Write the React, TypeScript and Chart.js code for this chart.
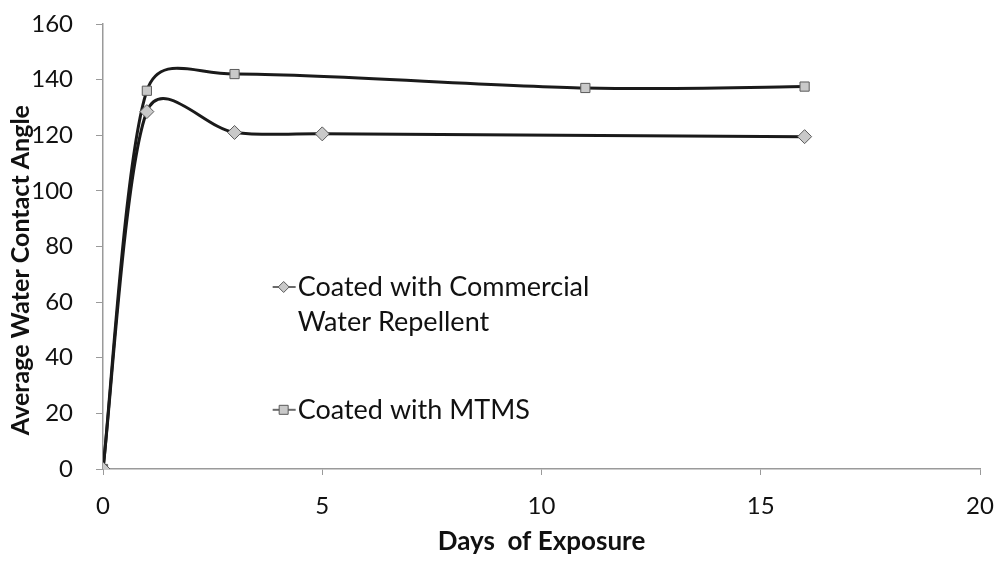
import React, { useEffect, useRef } from "react";
import { Chart, registerables } from "chart.js";

Chart.register(...registerables);

const commercialDays = [0, 1, 3, 5, 16];
const commercialValues = [0, 128.5, 121, 120.5, 119.5];
const mtmsDays = [0, 1, 3, 11, 16];
const mtmsValues = [0, 136, 142, 137, 137.5];
const xTicks = [0, 5, 10, 15, 20];
const yTicks = [0, 20, 40, 60, 80, 100, 120, 140, 160];
const legendLabels = [["Coated with Commercial", "Water Repellent"], ["Coated with MTMS"]];
const xTitle = "Days  of Exposure";
const yTitle = "Average Water Contact Angle";

const FONT = "Lato, 'Open Sans', sans-serif";
const LINE = "#1a1a1a";
const MARK_FILL = "#c9c9c9";
const MARK_BORDER = "#5a5a5a";
const AXIS = "#9a9a9a";

// Excel-style smoothing: Catmull-Rom tangents (1/6) with length capped by the neighbouring segment
const excelSmooth = {
  id: "excelSmooth",
  beforeDatasetDraw(chart: any, args: any) {
    const meta = args.meta;
    const line = meta.dataset;
    if (!line || !line.updateControlPoints) return;
    line.updateControlPoints(chart.chartArea, "x");
    const pts = meta.data;
    const n = pts.length;
    const CAP = 0.45;
    for (let i = 0; i < n; i++) {
      const p = pts[i];
      const prev = pts[Math.max(i - 1, 0)];
      const next = pts[Math.min(i + 1, n - 1)];
      const tx = (next.x - prev.x) / 6;
      const ty = (next.y - prev.y) / 6;
      const tl = Math.hypot(tx, ty) || 1;
      const dPrev = i > 0 ? Math.hypot(p.x - pts[i - 1].x, p.y - pts[i - 1].y) : 0;
      const dNext = i < n - 1 ? Math.hypot(pts[i + 1].x - p.x, pts[i + 1].y - p.y) : 0;
      const s1 = Math.min(1, (CAP * dPrev) / tl);
      const s2 = Math.min(1, (CAP * dNext) / tl);
      p.cp1x = p.x - tx * s1;
      p.cp1y = p.y - ty * s1;
      p.cp2x = p.x + tx * s2;
      p.cp2y = p.y + ty * s2;
    }
  },
};

const decorPlugin = {
  id: "decor",
  afterDraw(chart: any) {
    const { ctx, chartArea } = chart;
    const w = chartArea.right - chartArea.left;
    const h = chartArea.bottom - chartArea.top;
    ctx.save();
    // axis titles
    ctx.fillStyle = "#111";
    ctx.textAlign = "center";
    ctx.textBaseline = "middle";
    ctx.font = `bold 26px ${FONT}`;
    ctx.fillText(xTitle, chartArea.left + 0.5 * w, chartArea.bottom + 73);
    ctx.save();
    ctx.translate(21, chartArea.top + 0.553 * h);
    ctx.rotate(-Math.PI / 2);
    ctx.font = `bold 25px ${FONT}`;
    ctx.fillText(yTitle, 0, 0);
    ctx.restore();

    // legend inside plot
    const entries = [
      { fx: 0.206, fy: 0.591, style: "rectRot", lines: legendLabels[0] },
      { fx: 0.206, fy: 0.867, style: "rect", lines: legendLabels[1] },
    ];
    entries.forEach((e) => {
      const cx = chartArea.left + e.fx * w;
      const cy = chartArea.top + e.fy * h;
      ctx.strokeStyle = "#6a6a6a";
      ctx.lineWidth = 2;
      ctx.beginPath();
      ctx.moveTo(cx - 11, cy);
      ctx.lineTo(cx + 12, cy);
      ctx.stroke();
      ctx.fillStyle = MARK_FILL;
      ctx.strokeStyle = MARK_BORDER;
      ctx.lineWidth = 1;
      ctx.beginPath();
      if (e.style === "rect") {
        ctx.rect(cx - 4.5, cy - 4.5, 9, 9);
      } else {
        ctx.moveTo(cx, cy - 5.5);
        ctx.lineTo(cx + 5.5, cy);
        ctx.lineTo(cx, cy + 5.5);
        ctx.lineTo(cx - 5.5, cy);
        ctx.closePath();
      }
      ctx.fill();
      ctx.stroke();
      ctx.fillStyle = "#111";
      ctx.font = `27px ${FONT}`;
      ctx.textAlign = "left";
      ctx.textBaseline = "middle";
      e.lines.forEach((t, i) => {
        ctx.fillText(t, cx + 14, cy + i * 35);
      });
    });
    ctx.restore();
  },
};

export default function App() {
  const ref = useRef<HTMLCanvasElement>(null);
  useEffect(() => {
    document.body.style.margin = "0";
    const canvas = ref.current!;
    const common = {
      borderColor: LINE,
      borderWidth: 3,
      tension: 0.4,
      pointRadius: 6.5,
      pointBackgroundColor: MARK_FILL,
      pointBorderColor: MARK_BORDER,
      pointBorderWidth: 1,
    };
    const chart = new Chart(canvas, {
      type: "line",
      data: {
        datasets: [
          {
            ...common,
            label: legendLabels[0].join(" "),
            data: commercialDays.map((d, i) => ({ x: d, y: commercialValues[i] })),
            pointStyle: "rectRot",
            pointRadius: 7,
          },
          {
            ...common,
            label: legendLabels[1].join(" "),
            data: mtmsDays.map((d, i) => ({ x: d, y: mtmsValues[i] })),
            pointStyle: "rect",
          },
        ],
      },
      options: {
        responsive: false,
        animation: false,
        layout: { padding: { top: 24, right: 19, left: 0, bottom: 0 } },
        plugins: { legend: { display: false }, tooltip: { enabled: false } },
        scales: {
          x: {
            type: "linear",
            min: 0,
            max: 20,
            afterBuildTicks: (s: any) => {
              s.ticks = xTicks.map((v) => ({ value: v }));
            },
            afterFit: (s: any) => {
              s.height = 92;
              s.paddingLeft = 0;
              s.paddingRight = 0;
            },
            ticks: { color: "#111", font: { family: FONT, size: 24 }, padding: 17 },
            grid: { display: true, drawOnChartArea: false, drawTicks: true, tickLength: 6, color: AXIS },
            border: { display: true, color: AXIS, width: 1.5 },
            title: { display: false },
          },
          y: {
            min: 0,
            max: 160,
            afterBuildTicks: (s: any) => {
              s.ticks = yTicks.map((v) => ({ value: v }));
            },
            afterFit: (s: any) => {
              s.width = 103;
              s.paddingTop = 0;
              s.paddingBottom = 0;
            },
            ticks: { color: "#111", font: { family: FONT, size: 24 }, padding: 23 },
            grid: { display: true, drawOnChartArea: false, drawTicks: true, tickLength: 7, color: AXIS },
            border: { display: true, color: AXIS, width: 1.5 },
            title: { display: false },
          },
        },
      },
      plugins: [excelSmooth, decorPlugin],
    } as any);
    return () => chart.destroy();
  }, []);
  return (
    <div style={{ width: 999, height: 561, background: "#fff" }}>
      <canvas ref={ref} width={999} height={561} style={{ display: "block" }} />
    </div>
  );
}
